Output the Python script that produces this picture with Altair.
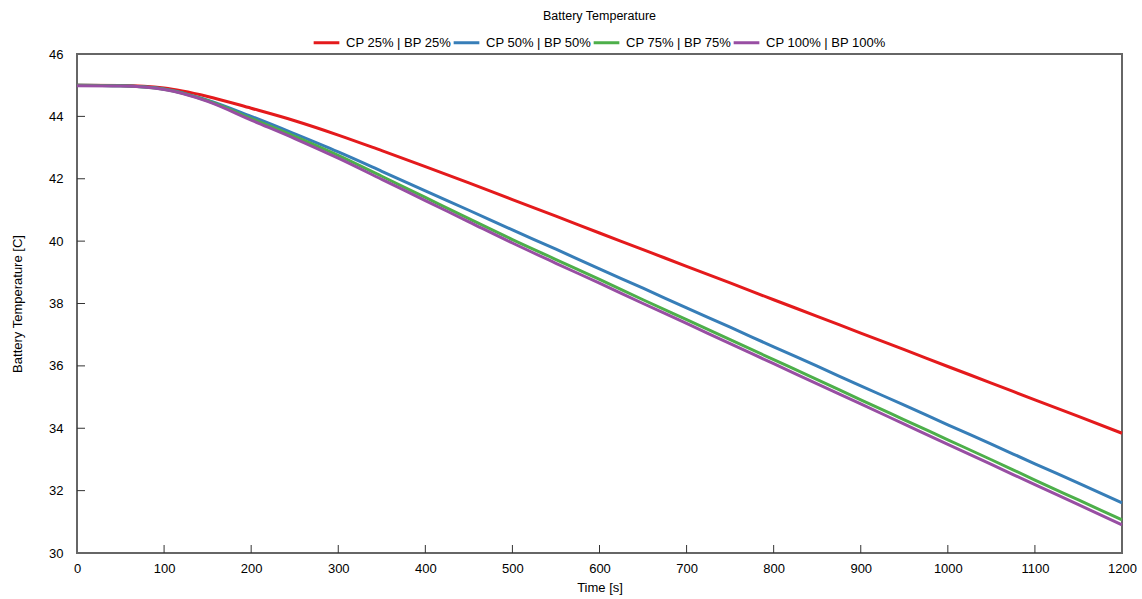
import altair as alt
import pandas as pd

time_s = [0, 50, 100, 150, 200, 250, 300, 350, 400, 450, 500, 550, 600,
          650, 700, 750, 800, 850, 900, 950, 1000, 1050, 1100, 1150, 1200]

cp25 = [45.0, 44.99, 44.91, 44.64, 44.26, 43.86, 43.40, 42.90, 42.39, 41.87, 41.33, 40.80, 40.26,
        39.73, 39.19, 38.66, 38.12, 37.59, 37.05, 36.52, 35.98, 35.45, 34.91, 34.38, 33.84]
cp50 = [45.0, 44.98, 44.88, 44.52, 44.0, 43.44, 42.86, 42.24, 41.61, 40.99, 40.36, 39.74, 39.11,
        38.49, 37.86, 37.24, 36.61, 35.99, 35.36, 34.74, 34.11, 33.49, 32.86, 32.24, 31.61]
cp75 = [45.0, 44.98, 44.87, 44.50, 43.93, 43.36, 42.75, 42.08, 41.40, 40.72, 40.05, 39.41, 38.77,
        38.12, 37.48, 36.84, 36.20, 35.56, 34.91, 34.27, 33.63, 32.99, 32.34, 31.70, 31.06]
cp100 = [44.98, 44.97, 44.86, 44.48, 43.88, 43.29, 42.66, 41.98, 41.30, 40.62, 39.94, 39.29, 38.65,
         38.00, 37.36, 36.71, 36.07, 35.42, 34.78, 34.13, 33.48, 32.84, 32.19, 31.55, 30.90]

series_names = ["CP 25% | BP 25%", "CP 50% | BP 50%", "CP 75% | BP 75%", "CP 100% | BP 100%"]
series_colors = ["#e41a1c", "#377eb8", "#4daf4a", "#984ea3"]

x_ticks = [0, 100, 200, 300, 400, 500, 600, 700, 800, 900, 1000, 1100, 1200]
y_ticks = [30, 32, 34, 36, 38, 40, 42, 44, 46]
x_inner_ticks = x_ticks[1:-1]
y_inner_ticks = y_ticks[1:-1]

rows = []
for name, vals in zip(series_names, [cp25, cp50, cp75, cp100]):
    for t, v in zip(time_s, vals):
        rows.append({"Time": t, "Temp": v, "Series": name})
df = pd.DataFrame(rows)

W, H = 1045, 499
FONT = "Liberation Sans"

xscale = alt.Scale(domain=[0, 1200], nice=False, zero=False)
yscale = alt.Scale(domain=[30, 46], nice=False, zero=False)

lines = alt.Chart(df).mark_line(strokeWidth=3, interpolate="monotone").encode(
    x=alt.X("Time:Q", scale=xscale,
            axis=alt.Axis(title="Time [s]", values=x_ticks, tickSize=0, domain=False,
                          grid=False, labelPadding=9, titlePadding=6, format="d",
                          labelFlush=False)),
    y=alt.Y("Temp:Q", scale=yscale,
            axis=alt.Axis(title="Battery Temperature [C]", values=y_ticks, tickSize=0,
                          domain=False, grid=False, labelPadding=14, titlePadding=24,
                          format="d", labelFlush=False)),
    color=alt.Color("Series:N", sort=series_names,
                    scale=alt.Scale(domain=series_names, range=series_colors),
                    legend=alt.Legend(title=None, orient="none", direction="horizontal",
                                      legendX=235, legendY=-26, symbolType="stroke",
                                      symbolSize=660, symbolStrokeWidth=3,
                                      labelFontSize=13, labelFont=FONT,
                                      labelColor="#000", columnPadding=-5,
                                      labelOffset=5)),
)

xt = alt.Chart(pd.DataFrame({"t": x_inner_ticks})).mark_rule(color="#333", strokeWidth=1).encode(
    x=alt.X("t:Q", scale=xscale), y=alt.value(H), y2=alt.value(H - 8))
yt = alt.Chart(pd.DataFrame({"v": y_inner_ticks})).mark_rule(color="#333", strokeWidth=1).encode(
    y=alt.Y("v:Q", scale=yscale), x=alt.value(0), x2=alt.value(8))

chart = alt.layer(lines, xt, yt).properties(
    width=W, height=H,
    title=alt.TitleParams("Battery Temperature", fontSize=12.5, font=FONT, fontWeight="normal",
                          color="#000", offset=6),
    autosize=alt.AutoSizeParams(type="none"),
    padding={"left": 77, "top": 54, "right": 20, "bottom": 46},
    background="white",
).configure_view(
    stroke="#666666", strokeWidth=2
).configure_axis(
    labelFont=FONT, labelFontSize=13, labelColor="#000",
    titleFont=FONT, titleFontSize=13, titleFontWeight="normal", titleColor="#000"
)

chart.save("out.html", embed_options={"renderer": "svg", "actions": False})
